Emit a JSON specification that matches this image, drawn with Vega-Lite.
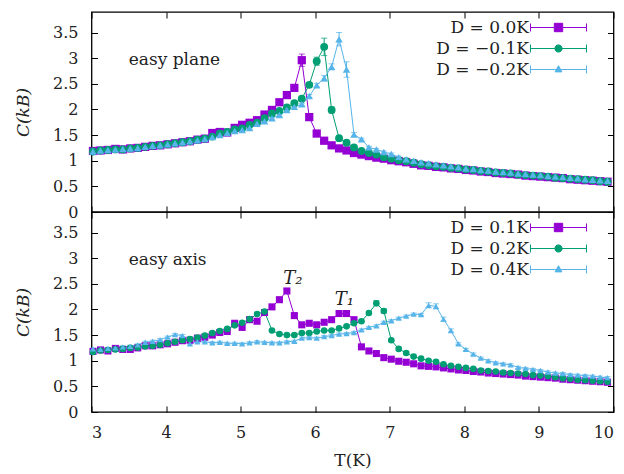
{
"$schema": "https://vega.github.io/schema/vega-lite/v6.json",
"padding": {"left": 13.5, "top": 10, "right": 11, "bottom": 0},
"background": "white",
"bounds": "flush",
"config": {
  "font": "DejaVu Serif",
  "view": {"stroke": "black", "strokeWidth": 1.3},
  "axis": {"labelFont": "DejaVu Serif", "labelFontSize": 16, "labelColor": "#222", "titleFont": "DejaVu Serif", "titleFontSize": 17, "titleFontWeight": "normal", "titleColor": "#222", "tickColor": "black", "domain": false, "grid": false, "tickSize": -6, "labelPadding": 0},
  "legend": {"labelFont": "DejaVu Serif", "labelFontSize": 17, "labelColor": "#222", "title": null, "padding": 0, "rowPadding": 3, "symbolStrokeWidth": 1, "symbolSize": 64}
},
"datasets": {
"top": [
{"s":"D = 0.0K","T":3.02,"C":1.19,"e":0.02},{"s":"D = 0.0K","T":3.12,"C":1.20,"e":0.02},{"s":"D = 0.0K","T":3.22,"C":1.21,"e":0.02},{"s":"D = 0.0K","T":3.32,"C":1.23,"e":0.02},{"s":"D = 0.0K","T":3.42,"C":1.22,"e":0.02},{"s":"D = 0.0K","T":3.52,"C":1.24,"e":0.02},{"s":"D = 0.0K","T":3.62,"C":1.25,"e":0.02},{"s":"D = 0.0K","T":3.72,"C":1.27,"e":0.02},{"s":"D = 0.0K","T":3.82,"C":1.29,"e":0.02},{"s":"D = 0.0K","T":3.92,"C":1.30,"e":0.02},
{"s":"D = 0.0K","T":4.02,"C":1.32,"e":0.02},{"s":"D = 0.0K","T":4.12,"C":1.34,"e":0.02},{"s":"D = 0.0K","T":4.22,"C":1.36,"e":0.02},{"s":"D = 0.0K","T":4.32,"C":1.38,"e":0.02},{"s":"D = 0.0K","T":4.42,"C":1.41,"e":0.02},{"s":"D = 0.0K","T":4.52,"C":1.43,"e":0.02},{"s":"D = 0.0K","T":4.62,"C":1.54,"e":0.02},{"s":"D = 0.0K","T":4.72,"C":1.56,"e":0.02},{"s":"D = 0.0K","T":4.82,"C":1.55,"e":0.02},{"s":"D = 0.0K","T":4.92,"C":1.64,"e":0.02},
{"s":"D = 0.0K","T":5.02,"C":1.70,"e":0.02},{"s":"D = 0.0K","T":5.12,"C":1.74,"e":0.02},{"s":"D = 0.0K","T":5.22,"C":1.79,"e":0.02},{"s":"D = 0.0K","T":5.32,"C":1.90,"e":0.02},{"s":"D = 0.0K","T":5.42,"C":1.99,"e":0.02},{"s":"D = 0.0K","T":5.52,"C":2.14,"e":0.02},{"s":"D = 0.0K","T":5.62,"C":2.28,"e":0.03},{"s":"D = 0.0K","T":5.72,"C":2.42,"e":0.04},{"s":"D = 0.0K","T":5.82,"C":2.96,"e":0.12},{"s":"D = 0.0K","T":5.92,"C":1.85,"e":0.04},
{"s":"D = 0.0K","T":6.02,"C":1.53,"e":0.02},{"s":"D = 0.0K","T":6.12,"C":1.39,"e":0.02},{"s":"D = 0.0K","T":6.22,"C":1.30,"e":0.02},{"s":"D = 0.0K","T":6.32,"C":1.24,"e":0.02},{"s":"D = 0.0K","T":6.42,"C":1.20,"e":0.02},{"s":"D = 0.0K","T":6.52,"C":1.15,"e":0.02},{"s":"D = 0.0K","T":6.62,"C":1.12,"e":0.02},{"s":"D = 0.0K","T":6.72,"C":1.09,"e":0.02},{"s":"D = 0.0K","T":6.82,"C":1.06,"e":0.02},{"s":"D = 0.0K","T":6.92,"C":1.04,"e":0.02},
{"s":"D = 0.0K","T":7.02,"C":1.01,"e":0.02},{"s":"D = 0.0K","T":7.12,"C":0.99,"e":0.02},{"s":"D = 0.0K","T":7.22,"C":0.97,"e":0.02},{"s":"D = 0.0K","T":7.32,"C":0.94,"e":0.02},{"s":"D = 0.0K","T":7.42,"C":0.91,"e":0.02},{"s":"D = 0.0K","T":7.52,"C":0.90,"e":0.02},{"s":"D = 0.0K","T":7.62,"C":0.88,"e":0.02},{"s":"D = 0.0K","T":7.72,"C":0.87,"e":0.02},{"s":"D = 0.0K","T":7.82,"C":0.85,"e":0.02},{"s":"D = 0.0K","T":7.92,"C":0.84,"e":0.02},
{"s":"D = 0.0K","T":8.02,"C":0.82,"e":0.02},{"s":"D = 0.0K","T":8.12,"C":0.81,"e":0.02},{"s":"D = 0.0K","T":8.22,"C":0.79,"e":0.02},{"s":"D = 0.0K","T":8.32,"C":0.78,"e":0.02},{"s":"D = 0.0K","T":8.42,"C":0.76,"e":0.02},{"s":"D = 0.0K","T":8.52,"C":0.75,"e":0.02},{"s":"D = 0.0K","T":8.62,"C":0.74,"e":0.02},{"s":"D = 0.0K","T":8.72,"C":0.73,"e":0.02},{"s":"D = 0.0K","T":8.82,"C":0.71,"e":0.02},{"s":"D = 0.0K","T":8.92,"C":0.70,"e":0.02},
{"s":"D = 0.0K","T":9.02,"C":0.69,"e":0.02},{"s":"D = 0.0K","T":9.12,"C":0.68,"e":0.02},{"s":"D = 0.0K","T":9.22,"C":0.67,"e":0.02},{"s":"D = 0.0K","T":9.32,"C":0.66,"e":0.02},{"s":"D = 0.0K","T":9.42,"C":0.64,"e":0.02},{"s":"D = 0.0K","T":9.52,"C":0.63,"e":0.02},{"s":"D = 0.0K","T":9.62,"C":0.62,"e":0.02},{"s":"D = 0.0K","T":9.72,"C":0.61,"e":0.02},{"s":"D = 0.0K","T":9.82,"C":0.60,"e":0.02},{"s":"D = 0.0K","T":9.92,"C":0.59,"e":0.02},

{"s":"D = −0.1K","T":3.02,"C":1.18,"e":0.02},{"s":"D = −0.1K","T":3.12,"C":1.20,"e":0.02},{"s":"D = −0.1K","T":3.22,"C":1.21,"e":0.02},{"s":"D = −0.1K","T":3.32,"C":1.22,"e":0.02},{"s":"D = −0.1K","T":3.42,"C":1.22,"e":0.02},{"s":"D = −0.1K","T":3.52,"C":1.24,"e":0.02},{"s":"D = −0.1K","T":3.62,"C":1.25,"e":0.02},{"s":"D = −0.1K","T":3.72,"C":1.27,"e":0.02},{"s":"D = −0.1K","T":3.82,"C":1.29,"e":0.02},{"s":"D = −0.1K","T":3.92,"C":1.30,"e":0.02},
{"s":"D = −0.1K","T":4.02,"C":1.32,"e":0.02},{"s":"D = −0.1K","T":4.12,"C":1.34,"e":0.02},{"s":"D = −0.1K","T":4.22,"C":1.36,"e":0.02},{"s":"D = −0.1K","T":4.32,"C":1.38,"e":0.02},{"s":"D = −0.1K","T":4.42,"C":1.41,"e":0.02},{"s":"D = −0.1K","T":4.52,"C":1.43,"e":0.02},{"s":"D = −0.1K","T":4.62,"C":1.47,"e":0.02},{"s":"D = −0.1K","T":4.72,"C":1.53,"e":0.02},{"s":"D = −0.1K","T":4.82,"C":1.56,"e":0.02},{"s":"D = −0.1K","T":4.92,"C":1.61,"e":0.02},
{"s":"D = −0.1K","T":5.02,"C":1.63,"e":0.02},{"s":"D = −0.1K","T":5.12,"C":1.70,"e":0.02},{"s":"D = −0.1K","T":5.22,"C":1.74,"e":0.02},{"s":"D = −0.1K","T":5.32,"C":1.83,"e":0.02},{"s":"D = −0.1K","T":5.42,"C":1.92,"e":0.02},{"s":"D = −0.1K","T":5.52,"C":1.97,"e":0.02},{"s":"D = −0.1K","T":5.62,"C":2.04,"e":0.02},{"s":"D = −0.1K","T":5.72,"C":2.12,"e":0.02},{"s":"D = −0.1K","T":5.82,"C":2.21,"e":0.03},{"s":"D = −0.1K","T":5.92,"C":2.48,"e":0.04},
{"s":"D = −0.1K","T":6.02,"C":2.94,"e":0.08},{"s":"D = −0.1K","T":6.12,"C":3.22,"e":0.17},{"s":"D = −0.1K","T":6.22,"C":1.99,"e":0.06},{"s":"D = −0.1K","T":6.32,"C":1.44,"e":0.02},{"s":"D = −0.1K","T":6.42,"C":1.35,"e":0.02},{"s":"D = −0.1K","T":6.52,"C":1.26,"e":0.02},{"s":"D = −0.1K","T":6.62,"C":1.19,"e":0.02},{"s":"D = −0.1K","T":6.72,"C":1.15,"e":0.02},{"s":"D = −0.1K","T":6.82,"C":1.12,"e":0.02},{"s":"D = −0.1K","T":6.92,"C":1.07,"e":0.02},
{"s":"D = −0.1K","T":7.02,"C":1.04,"e":0.02},{"s":"D = −0.1K","T":7.12,"C":1.01,"e":0.02},{"s":"D = −0.1K","T":7.22,"C":0.99,"e":0.02},{"s":"D = −0.1K","T":7.32,"C":0.96,"e":0.02},{"s":"D = −0.1K","T":7.42,"C":0.93,"e":0.02},{"s":"D = −0.1K","T":7.52,"C":0.91,"e":0.02},{"s":"D = −0.1K","T":7.62,"C":0.89,"e":0.02},{"s":"D = −0.1K","T":7.72,"C":0.88,"e":0.02},{"s":"D = −0.1K","T":7.82,"C":0.86,"e":0.02},{"s":"D = −0.1K","T":7.92,"C":0.85,"e":0.02},
{"s":"D = −0.1K","T":8.02,"C":0.83,"e":0.02},{"s":"D = −0.1K","T":8.12,"C":0.82,"e":0.02},{"s":"D = −0.1K","T":8.22,"C":0.80,"e":0.02},{"s":"D = −0.1K","T":8.32,"C":0.79,"e":0.02},{"s":"D = −0.1K","T":8.42,"C":0.77,"e":0.02},{"s":"D = −0.1K","T":8.52,"C":0.76,"e":0.02},{"s":"D = −0.1K","T":8.62,"C":0.75,"e":0.02},{"s":"D = −0.1K","T":8.72,"C":0.73,"e":0.02},{"s":"D = −0.1K","T":8.82,"C":0.72,"e":0.02},{"s":"D = −0.1K","T":8.92,"C":0.71,"e":0.02},
{"s":"D = −0.1K","T":9.02,"C":0.70,"e":0.02},{"s":"D = −0.1K","T":9.12,"C":0.69,"e":0.02},{"s":"D = −0.1K","T":9.22,"C":0.67,"e":0.02},{"s":"D = −0.1K","T":9.32,"C":0.66,"e":0.02},{"s":"D = −0.1K","T":9.42,"C":0.65,"e":0.02},{"s":"D = −0.1K","T":9.52,"C":0.64,"e":0.02},{"s":"D = −0.1K","T":9.62,"C":0.63,"e":0.02},{"s":"D = −0.1K","T":9.72,"C":0.62,"e":0.02},{"s":"D = −0.1K","T":9.82,"C":0.60,"e":0.02},{"s":"D = −0.1K","T":9.92,"C":0.59,"e":0.02},

{"s":"D = −0.2K","T":3.02,"C":1.18,"e":0.02},{"s":"D = −0.2K","T":3.12,"C":1.20,"e":0.02},{"s":"D = −0.2K","T":3.22,"C":1.21,"e":0.02},{"s":"D = −0.2K","T":3.32,"C":1.22,"e":0.02},{"s":"D = −0.2K","T":3.42,"C":1.23,"e":0.02},{"s":"D = −0.2K","T":3.52,"C":1.24,"e":0.02},{"s":"D = −0.2K","T":3.62,"C":1.25,"e":0.02},{"s":"D = −0.2K","T":3.72,"C":1.27,"e":0.02},{"s":"D = −0.2K","T":3.82,"C":1.29,"e":0.02},{"s":"D = −0.2K","T":3.92,"C":1.30,"e":0.02},
{"s":"D = −0.2K","T":4.02,"C":1.32,"e":0.02},{"s":"D = −0.2K","T":4.12,"C":1.34,"e":0.02},{"s":"D = −0.2K","T":4.22,"C":1.36,"e":0.02},{"s":"D = −0.2K","T":4.32,"C":1.38,"e":0.02},{"s":"D = −0.2K","T":4.42,"C":1.40,"e":0.02},{"s":"D = −0.2K","T":4.52,"C":1.43,"e":0.02},{"s":"D = −0.2K","T":4.62,"C":1.46,"e":0.02},{"s":"D = −0.2K","T":4.72,"C":1.50,"e":0.02},{"s":"D = −0.2K","T":4.82,"C":1.54,"e":0.02},{"s":"D = −0.2K","T":4.92,"C":1.58,"e":0.02},
{"s":"D = −0.2K","T":5.02,"C":1.60,"e":0.02},{"s":"D = −0.2K","T":5.12,"C":1.64,"e":0.02},{"s":"D = −0.2K","T":5.22,"C":1.72,"e":0.02},{"s":"D = −0.2K","T":5.32,"C":1.77,"e":0.02},{"s":"D = −0.2K","T":5.42,"C":1.83,"e":0.02},{"s":"D = −0.2K","T":5.52,"C":1.89,"e":0.02},{"s":"D = −0.2K","T":5.62,"C":1.99,"e":0.02},{"s":"D = −0.2K","T":5.72,"C":2.05,"e":0.02},{"s":"D = −0.2K","T":5.82,"C":2.10,"e":0.02},{"s":"D = −0.2K","T":5.92,"C":2.26,"e":0.03},
{"s":"D = −0.2K","T":6.02,"C":2.47,"e":0.04},{"s":"D = −0.2K","T":6.12,"C":2.61,"e":0.05},{"s":"D = −0.2K","T":6.22,"C":2.83,"e":0.06},{"s":"D = −0.2K","T":6.32,"C":3.37,"e":0.13},{"s":"D = −0.2K","T":6.42,"C":2.78,"e":0.15},{"s":"D = −0.2K","T":6.52,"C":1.51,"e":0.04},{"s":"D = −0.2K","T":6.62,"C":1.42,"e":0.02},{"s":"D = −0.2K","T":6.72,"C":1.26,"e":0.02},{"s":"D = −0.2K","T":6.82,"C":1.22,"e":0.02},{"s":"D = −0.2K","T":6.92,"C":1.17,"e":0.02},
{"s":"D = −0.2K","T":7.02,"C":1.13,"e":0.02},{"s":"D = −0.2K","T":7.12,"C":1.07,"e":0.02},{"s":"D = −0.2K","T":7.22,"C":1.03,"e":0.02},{"s":"D = −0.2K","T":7.32,"C":1.00,"e":0.02},{"s":"D = −0.2K","T":7.42,"C":0.97,"e":0.02},{"s":"D = −0.2K","T":7.52,"C":0.95,"e":0.02},{"s":"D = −0.2K","T":7.62,"C":0.93,"e":0.02},{"s":"D = −0.2K","T":7.72,"C":0.91,"e":0.02},{"s":"D = −0.2K","T":7.82,"C":0.89,"e":0.02},{"s":"D = −0.2K","T":7.92,"C":0.87,"e":0.02},
{"s":"D = −0.2K","T":8.02,"C":0.85,"e":0.02},{"s":"D = −0.2K","T":8.12,"C":0.84,"e":0.02},{"s":"D = −0.2K","T":8.22,"C":0.82,"e":0.02},{"s":"D = −0.2K","T":8.32,"C":0.81,"e":0.02},{"s":"D = −0.2K","T":8.42,"C":0.79,"e":0.02},{"s":"D = −0.2K","T":8.52,"C":0.78,"e":0.02},{"s":"D = −0.2K","T":8.62,"C":0.77,"e":0.02},{"s":"D = −0.2K","T":8.72,"C":0.75,"e":0.02},{"s":"D = −0.2K","T":8.82,"C":0.74,"e":0.02},{"s":"D = −0.2K","T":8.92,"C":0.73,"e":0.02},
{"s":"D = −0.2K","T":9.02,"C":0.72,"e":0.02},{"s":"D = −0.2K","T":9.12,"C":0.70,"e":0.02},{"s":"D = −0.2K","T":9.22,"C":0.69,"e":0.02},{"s":"D = −0.2K","T":9.32,"C":0.68,"e":0.02},{"s":"D = −0.2K","T":9.42,"C":0.67,"e":0.02},{"s":"D = −0.2K","T":9.52,"C":0.66,"e":0.02},{"s":"D = −0.2K","T":9.62,"C":0.64,"e":0.02},{"s":"D = −0.2K","T":9.72,"C":0.63,"e":0.02},{"s":"D = −0.2K","T":9.82,"C":0.62,"e":0.02},{"s":"D = −0.2K","T":9.92,"C":0.61,"e":0.02}
],
"bot": [
{"s":"D = 0.1K","T":3.02,"C":1.18,"e":0.02},{"s":"D = 0.1K","T":3.12,"C":1.21,"e":0.02},{"s":"D = 0.1K","T":3.22,"C":1.19,"e":0.02},{"s":"D = 0.1K","T":3.32,"C":1.24,"e":0.02},{"s":"D = 0.1K","T":3.42,"C":1.22,"e":0.02},{"s":"D = 0.1K","T":3.52,"C":1.22,"e":0.02},{"s":"D = 0.1K","T":3.62,"C":1.25,"e":0.02},{"s":"D = 0.1K","T":3.72,"C":1.29,"e":0.02},{"s":"D = 0.1K","T":3.82,"C":1.29,"e":0.02},{"s":"D = 0.1K","T":3.92,"C":1.31,"e":0.02},
{"s":"D = 0.1K","T":4.02,"C":1.33,"e":0.02},{"s":"D = 0.1K","T":4.12,"C":1.36,"e":0.02},{"s":"D = 0.1K","T":4.22,"C":1.39,"e":0.02},{"s":"D = 0.1K","T":4.32,"C":1.40,"e":0.02},{"s":"D = 0.1K","T":4.42,"C":1.44,"e":0.02},{"s":"D = 0.1K","T":4.52,"C":1.46,"e":0.02},{"s":"D = 0.1K","T":4.62,"C":1.50,"e":0.02},{"s":"D = 0.1K","T":4.72,"C":1.55,"e":0.02},{"s":"D = 0.1K","T":4.82,"C":1.57,"e":0.02},{"s":"D = 0.1K","T":4.92,"C":1.73,"e":0.02},
{"s":"D = 0.1K","T":5.02,"C":1.65,"e":0.02},{"s":"D = 0.1K","T":5.12,"C":1.80,"e":0.02},{"s":"D = 0.1K","T":5.22,"C":1.77,"e":0.02},{"s":"D = 0.1K","T":5.32,"C":1.94,"e":0.02},{"s":"D = 0.1K","T":5.42,"C":2.05,"e":0.02},{"s":"D = 0.1K","T":5.52,"C":2.19,"e":0.03},{"s":"D = 0.1K","T":5.62,"C":2.36,"e":0.04},{"s":"D = 0.1K","T":5.72,"C":1.88,"e":0.02},{"s":"D = 0.1K","T":5.82,"C":1.70,"e":0.02},{"s":"D = 0.1K","T":5.92,"C":1.73,"e":0.02},
{"s":"D = 0.1K","T":6.02,"C":1.70,"e":0.02},{"s":"D = 0.1K","T":6.12,"C":1.75,"e":0.02},{"s":"D = 0.1K","T":6.22,"C":1.80,"e":0.02},{"s":"D = 0.1K","T":6.32,"C":1.92,"e":0.02},{"s":"D = 0.1K","T":6.42,"C":1.92,"e":0.02},{"s":"D = 0.1K","T":6.52,"C":1.80,"e":0.02},{"s":"D = 0.1K","T":6.62,"C":1.27,"e":0.02},{"s":"D = 0.1K","T":6.72,"C":1.19,"e":0.02},{"s":"D = 0.1K","T":6.82,"C":1.14,"e":0.02},{"s":"D = 0.1K","T":6.92,"C":1.06,"e":0.02},
{"s":"D = 0.1K","T":7.02,"C":1.03,"e":0.02},{"s":"D = 0.1K","T":7.12,"C":0.99,"e":0.02},{"s":"D = 0.1K","T":7.22,"C":0.97,"e":0.02},{"s":"D = 0.1K","T":7.32,"C":0.94,"e":0.02},{"s":"D = 0.1K","T":7.42,"C":0.90,"e":0.02},{"s":"D = 0.1K","T":7.52,"C":0.89,"e":0.02},{"s":"D = 0.1K","T":7.62,"C":0.88,"e":0.02},{"s":"D = 0.1K","T":7.72,"C":0.86,"e":0.02},{"s":"D = 0.1K","T":7.82,"C":0.84,"e":0.02},{"s":"D = 0.1K","T":7.92,"C":0.82,"e":0.02},
{"s":"D = 0.1K","T":8.02,"C":0.81,"e":0.02},{"s":"D = 0.1K","T":8.12,"C":0.79,"e":0.02},{"s":"D = 0.1K","T":8.22,"C":0.78,"e":0.02},{"s":"D = 0.1K","T":8.32,"C":0.76,"e":0.02},{"s":"D = 0.1K","T":8.42,"C":0.75,"e":0.02},{"s":"D = 0.1K","T":8.52,"C":0.74,"e":0.02},{"s":"D = 0.1K","T":8.62,"C":0.73,"e":0.02},{"s":"D = 0.1K","T":8.72,"C":0.72,"e":0.02},{"s":"D = 0.1K","T":8.82,"C":0.70,"e":0.02},{"s":"D = 0.1K","T":8.92,"C":0.69,"e":0.02},
{"s":"D = 0.1K","T":9.02,"C":0.68,"e":0.02},{"s":"D = 0.1K","T":9.12,"C":0.67,"e":0.02},{"s":"D = 0.1K","T":9.22,"C":0.66,"e":0.02},{"s":"D = 0.1K","T":9.32,"C":0.64,"e":0.02},{"s":"D = 0.1K","T":9.42,"C":0.63,"e":0.02},{"s":"D = 0.1K","T":9.52,"C":0.62,"e":0.02},{"s":"D = 0.1K","T":9.62,"C":0.61,"e":0.02},{"s":"D = 0.1K","T":9.72,"C":0.60,"e":0.02},{"s":"D = 0.1K","T":9.82,"C":0.59,"e":0.02},{"s":"D = 0.1K","T":9.92,"C":0.58,"e":0.02},

{"s":"D = 0.2K","T":3.02,"C":1.17,"e":0.02},{"s":"D = 0.2K","T":3.12,"C":1.20,"e":0.02},{"s":"D = 0.2K","T":3.22,"C":1.21,"e":0.02},{"s":"D = 0.2K","T":3.32,"C":1.22,"e":0.02},{"s":"D = 0.2K","T":3.42,"C":1.23,"e":0.02},{"s":"D = 0.2K","T":3.52,"C":1.25,"e":0.02},{"s":"D = 0.2K","T":3.62,"C":1.26,"e":0.02},{"s":"D = 0.2K","T":3.72,"C":1.28,"e":0.02},{"s":"D = 0.2K","T":3.82,"C":1.29,"e":0.02},{"s":"D = 0.2K","T":3.92,"C":1.31,"e":0.02},
{"s":"D = 0.2K","T":4.02,"C":1.34,"e":0.02},{"s":"D = 0.2K","T":4.12,"C":1.37,"e":0.02},{"s":"D = 0.2K","T":4.22,"C":1.40,"e":0.02},{"s":"D = 0.2K","T":4.32,"C":1.42,"e":0.02},{"s":"D = 0.2K","T":4.42,"C":1.45,"e":0.02},{"s":"D = 0.2K","T":4.52,"C":1.49,"e":0.02},{"s":"D = 0.2K","T":4.62,"C":1.54,"e":0.02},{"s":"D = 0.2K","T":4.72,"C":1.58,"e":0.02},{"s":"D = 0.2K","T":4.82,"C":1.62,"e":0.02},{"s":"D = 0.2K","T":4.92,"C":1.69,"e":0.02},
{"s":"D = 0.2K","T":5.02,"C":1.74,"e":0.02},{"s":"D = 0.2K","T":5.12,"C":1.81,"e":0.02},{"s":"D = 0.2K","T":5.22,"C":1.91,"e":0.02},{"s":"D = 0.2K","T":5.32,"C":1.96,"e":0.02},{"s":"D = 0.2K","T":5.42,"C":1.59,"e":0.02},{"s":"D = 0.2K","T":5.52,"C":1.52,"e":0.02},{"s":"D = 0.2K","T":5.62,"C":1.50,"e":0.02},{"s":"D = 0.2K","T":5.72,"C":1.50,"e":0.02},{"s":"D = 0.2K","T":5.82,"C":1.54,"e":0.02},{"s":"D = 0.2K","T":5.92,"C":1.54,"e":0.02},
{"s":"D = 0.2K","T":6.02,"C":1.57,"e":0.02},{"s":"D = 0.2K","T":6.12,"C":1.59,"e":0.02},{"s":"D = 0.2K","T":6.22,"C":1.59,"e":0.02},{"s":"D = 0.2K","T":6.32,"C":1.63,"e":0.02},{"s":"D = 0.2K","T":6.42,"C":1.67,"e":0.02},{"s":"D = 0.2K","T":6.52,"C":1.73,"e":0.02},{"s":"D = 0.2K","T":6.62,"C":1.77,"e":0.02},{"s":"D = 0.2K","T":6.72,"C":1.93,"e":0.03},{"s":"D = 0.2K","T":6.82,"C":2.12,"e":0.05},{"s":"D = 0.2K","T":6.92,"C":1.97,"e":0.04},
{"s":"D = 0.2K","T":7.02,"C":1.40,"e":0.02},{"s":"D = 0.2K","T":7.12,"C":1.23,"e":0.02},{"s":"D = 0.2K","T":7.22,"C":1.15,"e":0.02},{"s":"D = 0.2K","T":7.32,"C":1.08,"e":0.02},{"s":"D = 0.2K","T":7.42,"C":1.04,"e":0.02},{"s":"D = 0.2K","T":7.52,"C":1.00,"e":0.02},{"s":"D = 0.2K","T":7.62,"C":0.98,"e":0.02},{"s":"D = 0.2K","T":7.72,"C":0.93,"e":0.02},{"s":"D = 0.2K","T":7.82,"C":0.90,"e":0.02},{"s":"D = 0.2K","T":7.92,"C":0.88,"e":0.02},
{"s":"D = 0.2K","T":8.02,"C":0.86,"e":0.02},{"s":"D = 0.2K","T":8.12,"C":0.84,"e":0.02},{"s":"D = 0.2K","T":8.22,"C":0.81,"e":0.02},{"s":"D = 0.2K","T":8.32,"C":0.80,"e":0.02},{"s":"D = 0.2K","T":8.42,"C":0.79,"e":0.02},{"s":"D = 0.2K","T":8.52,"C":0.77,"e":0.02},{"s":"D = 0.2K","T":8.62,"C":0.76,"e":0.02},{"s":"D = 0.2K","T":8.72,"C":0.75,"e":0.02},{"s":"D = 0.2K","T":8.82,"C":0.74,"e":0.02},{"s":"D = 0.2K","T":8.92,"C":0.72,"e":0.02},
{"s":"D = 0.2K","T":9.02,"C":0.71,"e":0.02},{"s":"D = 0.2K","T":9.12,"C":0.70,"e":0.02},{"s":"D = 0.2K","T":9.22,"C":0.68,"e":0.02},{"s":"D = 0.2K","T":9.32,"C":0.66,"e":0.02},{"s":"D = 0.2K","T":9.42,"C":0.65,"e":0.02},{"s":"D = 0.2K","T":9.52,"C":0.63,"e":0.02},{"s":"D = 0.2K","T":9.62,"C":0.62,"e":0.02},{"s":"D = 0.2K","T":9.72,"C":0.61,"e":0.02},{"s":"D = 0.2K","T":9.82,"C":0.60,"e":0.02},{"s":"D = 0.2K","T":9.92,"C":0.59,"e":0.02},

{"s":"D = 0.4K","T":3.02,"C":1.23,"e":0.02},{"s":"D = 0.4K","T":3.12,"C":1.22,"e":0.02},{"s":"D = 0.4K","T":3.22,"C":1.24,"e":0.02},{"s":"D = 0.4K","T":3.32,"C":1.25,"e":0.02},{"s":"D = 0.4K","T":3.42,"C":1.27,"e":0.02},{"s":"D = 0.4K","T":3.52,"C":1.28,"e":0.02},{"s":"D = 0.4K","T":3.62,"C":1.31,"e":0.02},{"s":"D = 0.4K","T":3.72,"C":1.36,"e":0.02},{"s":"D = 0.4K","T":3.82,"C":1.38,"e":0.02},{"s":"D = 0.4K","T":3.92,"C":1.41,"e":0.02},
{"s":"D = 0.4K","T":4.02,"C":1.46,"e":0.02},{"s":"D = 0.4K","T":4.12,"C":1.51,"e":0.02},{"s":"D = 0.4K","T":4.22,"C":1.49,"e":0.02},{"s":"D = 0.4K","T":4.32,"C":1.33,"e":0.02},{"s":"D = 0.4K","T":4.42,"C":1.37,"e":0.02},{"s":"D = 0.4K","T":4.52,"C":1.37,"e":0.02},{"s":"D = 0.4K","T":4.62,"C":1.35,"e":0.02},{"s":"D = 0.4K","T":4.72,"C":1.36,"e":0.02},{"s":"D = 0.4K","T":4.82,"C":1.34,"e":0.02},{"s":"D = 0.4K","T":4.92,"C":1.34,"e":0.02},
{"s":"D = 0.4K","T":5.02,"C":1.33,"e":0.02},{"s":"D = 0.4K","T":5.12,"C":1.35,"e":0.02},{"s":"D = 0.4K","T":5.22,"C":1.37,"e":0.02},{"s":"D = 0.4K","T":5.32,"C":1.36,"e":0.02},{"s":"D = 0.4K","T":5.42,"C":1.35,"e":0.02},{"s":"D = 0.4K","T":5.52,"C":1.35,"e":0.02},{"s":"D = 0.4K","T":5.62,"C":1.37,"e":0.02},{"s":"D = 0.4K","T":5.72,"C":1.38,"e":0.02},{"s":"D = 0.4K","T":5.82,"C":1.44,"e":0.02},{"s":"D = 0.4K","T":5.92,"C":1.45,"e":0.02},
{"s":"D = 0.4K","T":6.02,"C":1.44,"e":0.02},{"s":"D = 0.4K","T":6.12,"C":1.47,"e":0.02},{"s":"D = 0.4K","T":6.22,"C":1.49,"e":0.02},{"s":"D = 0.4K","T":6.32,"C":1.52,"e":0.02},{"s":"D = 0.4K","T":6.42,"C":1.53,"e":0.02},{"s":"D = 0.4K","T":6.52,"C":1.55,"e":0.02},{"s":"D = 0.4K","T":6.62,"C":1.60,"e":0.02},{"s":"D = 0.4K","T":6.72,"C":1.65,"e":0.02},{"s":"D = 0.4K","T":6.82,"C":1.68,"e":0.02},{"s":"D = 0.4K","T":6.92,"C":1.75,"e":0.02},
{"s":"D = 0.4K","T":7.02,"C":1.78,"e":0.02},{"s":"D = 0.4K","T":7.12,"C":1.83,"e":0.02},{"s":"D = 0.4K","T":7.22,"C":1.87,"e":0.02},{"s":"D = 0.4K","T":7.32,"C":1.91,"e":0.02},{"s":"D = 0.4K","T":7.42,"C":1.90,"e":0.02},{"s":"D = 0.4K","T":7.52,"C":2.08,"e":0.05},{"s":"D = 0.4K","T":7.62,"C":2.06,"e":0.05},{"s":"D = 0.4K","T":7.72,"C":1.81,"e":0.04},{"s":"D = 0.4K","T":7.82,"C":1.59,"e":0.03},{"s":"D = 0.4K","T":7.92,"C":1.33,"e":0.02},
{"s":"D = 0.4K","T":8.02,"C":1.22,"e":0.02},{"s":"D = 0.4K","T":8.12,"C":1.13,"e":0.02},{"s":"D = 0.4K","T":8.22,"C":1.05,"e":0.02},{"s":"D = 0.4K","T":8.32,"C":1.00,"e":0.02},{"s":"D = 0.4K","T":8.42,"C":0.96,"e":0.02},{"s":"D = 0.4K","T":8.52,"C":0.94,"e":0.02},{"s":"D = 0.4K","T":8.62,"C":0.92,"e":0.02},{"s":"D = 0.4K","T":8.72,"C":0.87,"e":0.02},{"s":"D = 0.4K","T":8.82,"C":0.85,"e":0.02},{"s":"D = 0.4K","T":8.92,"C":0.83,"e":0.02},
{"s":"D = 0.4K","T":9.02,"C":0.81,"e":0.02},{"s":"D = 0.4K","T":9.12,"C":0.78,"e":0.02},{"s":"D = 0.4K","T":9.22,"C":0.76,"e":0.02},{"s":"D = 0.4K","T":9.32,"C":0.75,"e":0.02},{"s":"D = 0.4K","T":9.42,"C":0.73,"e":0.02},{"s":"D = 0.4K","T":9.52,"C":0.72,"e":0.02},{"s":"D = 0.4K","T":9.62,"C":0.71,"e":0.02},{"s":"D = 0.4K","T":9.72,"C":0.70,"e":0.02},{"s":"D = 0.4K","T":9.82,"C":0.68,"e":0.02},{"s":"D = 0.4K","T":9.92,"C":0.67,"e":0.02}
]
},
"spacing": 0,
"resolve": {"scale": {"color": "independent", "shape": "independent"}},
"vconcat": [
{
  "width": 522, "height": 200,
  "data": {"name": "top"},
  "resolve": {"axis": {"x": "independent", "y": "independent"}, "scale": {"color": "independent"}, "legend": {"color": "independent"}},
  "layer": [
    {"mark": {"type": "errorbar", "ticks": {"size": 6}, "thickness": 1},
     "encoding": {
       "x": {"field": "T", "type": "quantitative", "scale": {"domain": [3, 10], "nice": false, "zero": false}, "axis": null},
       "y": {"field": "C", "type": "quantitative", "scale": {"domain": [0, 3.9], "nice": false}, "axis": null},
       "yError": {"field": "e"},
       "color": {"field": "s", "type": "nominal", "scale": {"domain": ["D = 0.0K", "D = −0.1K", "D = −0.2K"], "range": ["#9400d3", "#009e73", "#56b4e9"]}, "legend": null}}},
    {"mark": {"type": "line", "strokeWidth": 1},
     "encoding": {
       "x": {"field": "T", "type": "quantitative", "scale": {"domain": [3, 10], "nice": false, "zero": false},
             "axis": {"orient": "bottom", "values": [3,4,5,6,7,8,9,10], "labels": false, "title": null}},
       "y": {"field": "C", "type": "quantitative", "scale": {"domain": [0, 3.9], "nice": false},
             "axis": {"orient": "left", "values": [0,0.5,1,1.5,2,2.5,3,3.5], "format": "~g", "title": "C(kB)", "titleFontStyle": "italic", "labelPadding": 19.5, "titlePadding": 20}},
       "color": {"field": "s", "type": "nominal", "scale": {"domain": ["D = 0.0K", "D = −0.1K", "D = −0.2K"], "range": ["#9400d3", "#009e73", "#56b4e9"]},
         "legend": {"orient": "none", "legendX": 458.5, "legendY": 7, "labelAlign": "right", "labelOffset": -38,
           "encode": {"symbols": {"update": {
             "shape": {"signal": "['M-7,-1V1M-7,0H7M7,-1V1M-1.05,-1.05H1.05V1.05H-1.05Z','M-7,-1V1M-7,0H7M7,-1V1M-0.9,0A0.9,0.9,0,1,0,0.9,0A0.9,0.9,0,1,0,-0.9,0Z','M-7,-1V1M-7,0H7M7,-1V1M0,-0.95L0.85,0.6L-0.85,0.6Z'][indexof(['D = 0.0K','D = −0.1K','D = −0.2K'], datum.value)]"},
             "fill": {"signal": "['#9400d3','#009e73','#56b4e9'][indexof(['D = 0.0K','D = −0.1K','D = −0.2K'], datum.value)]"},
             "stroke": {"signal": "['#9400d3','#009e73','#56b4e9'][indexof(['D = 0.0K','D = −0.1K','D = −0.2K'], datum.value)]"},
             "strokeWidth": {"value": 1}}}}}}}},
    {"mark": {"type": "point", "filled": true, "opacity": 1},
     "encoding": {
       "x": {"field": "T", "type": "quantitative", "axis": null},
       "y": {"field": "C", "type": "quantitative", "axis": null},
       "color": {"field": "s", "type": "nominal", "scale": {"domain": ["D = 0.0K", "D = −0.1K", "D = −0.2K"], "range": ["#9400d3", "#009e73", "#56b4e9"]}, "legend": null},
       "shape": {"field": "s", "type": "nominal", "scale": {"domain": ["D = 0.0K", "D = −0.1K", "D = −0.2K"], "range": ["square", "circle", "triangle-up"]}, "legend": null},
       "size": {"field": "s", "type": "nominal", "scale": {"domain": ["D = 0.0K", "D = −0.1K", "D = −0.2K"], "range": [68, 38, 32]}, "legend": null}}},
    {"mark": {"type": "text", "align": "left", "baseline": "middle", "fontSize": 17, "font": "DejaVu Serif", "color": "#222"},
     "data": {"values": [{}]},
     "encoding": {
       "x": {"datum": 3.5, "type": "quantitative", "axis": null},
       "y": {"datum": 2.97, "type": "quantitative", "axis": null},
       "text": {"value": "easy plane"}}},
    {"mark": {"type": "rule", "opacity": 0},
     "data": {"values": [{}]},
     "encoding": {
       "x": {"datum": 3, "type": "quantitative", "axis": {"orient": "top", "values": [3,4,5,6,7,8,9,10], "labels": false, "title": null}},
       "y": {"datum": 0, "type": "quantitative", "axis": {"orient": "right", "values": [0,0.5,1,1.5,2,2.5,3,3.5], "labels": false, "title": null}}}}
  ]
},
{
  "width": 522, "height": 200,
  "data": {"name": "bot"},
  "resolve": {"axis": {"x": "independent", "y": "independent"}, "scale": {"color": "independent"}, "legend": {"color": "independent"}},
  "layer": [
    {"mark": {"type": "errorbar", "ticks": {"size": 6}, "thickness": 1},
     "encoding": {
       "x": {"field": "T", "type": "quantitative", "scale": {"domain": [3, 10], "nice": false, "zero": false}, "axis": null},
       "y": {"field": "C", "type": "quantitative", "scale": {"domain": [0, 3.9], "nice": false}, "axis": null},
       "yError": {"field": "e"},
       "color": {"field": "s", "type": "nominal", "scale": {"domain": ["D = 0.1K", "D = 0.2K", "D = 0.4K"], "range": ["#9400d3", "#009e73", "#56b4e9"]}, "legend": null}}},
    {"mark": {"type": "line", "strokeWidth": 1},
     "encoding": {
       "x": {"field": "T", "type": "quantitative", "scale": {"domain": [3, 10], "nice": false, "zero": false},
             "axis": {"orient": "bottom", "values": [3,4,5,6,7,8,9,10], "title": "T(K)", "labelPadding": 18.5, "titlePadding": 12}},
       "y": {"field": "C", "type": "quantitative", "scale": {"domain": [0, 3.9], "nice": false},
             "axis": {"orient": "left", "values": [0,0.5,1,1.5,2,2.5,3,3.5], "format": "~g", "title": "C(kB)", "titleFontStyle": "italic", "labelPadding": 19.5, "titlePadding": 20}},
       "color": {"field": "s", "type": "nominal", "scale": {"domain": ["D = 0.1K", "D = 0.2K", "D = 0.4K"], "range": ["#9400d3", "#009e73", "#56b4e9"]},
         "legend": {"orient": "none", "legendX": 458.5, "legendY": 7, "labelAlign": "right", "labelOffset": -38,
           "encode": {"symbols": {"update": {
             "shape": {"signal": "['M-7,-1V1M-7,0H7M7,-1V1M-1.05,-1.05H1.05V1.05H-1.05Z','M-7,-1V1M-7,0H7M7,-1V1M-0.9,0A0.9,0.9,0,1,0,0.9,0A0.9,0.9,0,1,0,-0.9,0Z','M-7,-1V1M-7,0H7M7,-1V1M0,-0.95L0.85,0.6L-0.85,0.6Z'][indexof(['D = 0.1K','D = 0.2K','D = 0.4K'], datum.value)]"},
             "fill": {"signal": "['#9400d3','#009e73','#56b4e9'][indexof(['D = 0.1K','D = 0.2K','D = 0.4K'], datum.value)]"},
             "stroke": {"signal": "['#9400d3','#009e73','#56b4e9'][indexof(['D = 0.1K','D = 0.2K','D = 0.4K'], datum.value)]"},
             "strokeWidth": {"value": 1}}}}}}}},
    {"mark": {"type": "point", "filled": true, "opacity": 1},
     "encoding": {
       "x": {"field": "T", "type": "quantitative", "axis": null},
       "y": {"field": "C", "type": "quantitative", "axis": null},
       "color": {"field": "s", "type": "nominal", "scale": {"domain": ["D = 0.1K", "D = 0.2K", "D = 0.4K"], "range": ["#9400d3", "#009e73", "#56b4e9"]}, "legend": null},
       "shape": {"field": "s", "type": "nominal", "scale": {"domain": ["D = 0.1K", "D = 0.2K", "D = 0.4K"], "range": ["square", "circle", "triangle-up"]}, "legend": null},
       "size": {"field": "s", "type": "nominal", "scale": {"domain": ["D = 0.1K", "D = 0.2K", "D = 0.4K"], "range": [68, 38, 32]}, "legend": null}}},
    {"mark": {"type": "text", "align": "left", "baseline": "middle", "fontSize": 17, "font": "DejaVu Serif", "color": "#222"},
     "data": {"values": [{}]},
     "encoding": {
       "x": {"datum": 3.5, "type": "quantitative", "axis": null},
       "y": {"datum": 2.96, "type": "quantitative", "axis": null},
       "text": {"value": "easy axis"}}},
    {"mark": {"type": "text", "align": "center", "baseline": "middle", "fontSize": 18, "font": "DejaVu Serif", "fontStyle": "italic", "color": "#222"},
     "data": {"values": [{}]},
     "encoding": {
       "x": {"datum": 5.7, "type": "quantitative", "axis": null},
       "y": {"datum": 2.6, "type": "quantitative", "axis": null},
       "text": {"value": "T₂"}}},
    {"mark": {"type": "text", "align": "center", "baseline": "middle", "fontSize": 18, "font": "DejaVu Serif", "fontStyle": "italic", "color": "#222"},
     "data": {"values": [{}]},
     "encoding": {
       "x": {"datum": 6.39, "type": "quantitative", "axis": null},
       "y": {"datum": 2.18, "type": "quantitative", "axis": null},
       "text": {"value": "T₁"}}},
    {"mark": {"type": "rule", "opacity": 0},
     "data": {"values": [{}]},
     "encoding": {
       "x": {"datum": 3, "type": "quantitative", "axis": {"orient": "top", "values": [3,4,5,6,7,8,9,10], "labels": false, "title": null}},
       "y": {"datum": 0, "type": "quantitative", "axis": {"orient": "right", "values": [0,0.5,1,1.5,2,2.5,3,3.5], "labels": false, "title": null}}}}
  ]
}
]
}
